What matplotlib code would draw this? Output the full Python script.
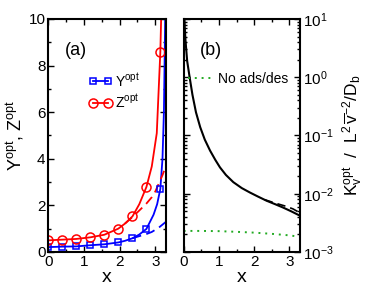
import numpy as np
import matplotlib
matplotlib.use('Agg')
import matplotlib.pyplot as plt
from matplotlib.ticker import MultipleLocator, LogLocator, NullFormatter

plt.rcParams['font.family'] = ['Liberation Sans', 'DejaVu Sans']
plt.rcParams['mathtext.fontset'] = 'custom'
plt.rcParams['mathtext.rm'] = 'Liberation Sans'
plt.rcParams['mathtext.it'] = 'Liberation Sans'
plt.rcParams['mathtext.default'] = 'regular'

# --- panel (a) data ---
x_mark = [0.0, 0.39, 0.785, 1.18, 1.57, 1.96, 2.36, 2.75, 3.14]
y_mark = [0.21, 0.23, 0.24, 0.29, 0.33, 0.41, 0.59, 0.99, 2.71]
z_mark = [0.50, 0.53, 0.56, 0.63, 0.74, 1.00, 1.53, 2.79, 8.6]

x_y_line = [0.0, 0.39, 0.785, 1.18, 1.57, 1.96, 2.15, 2.36, 2.55, 2.75, 2.95, 3.05, 3.14, 3.20, 3.24, 3.28]
y_line = [0.21, 0.23, 0.24, 0.29, 0.33, 0.41, 0.48, 0.59, 0.75, 0.99, 1.6, 2.05, 2.71, 4.0, 6.0, 10.5]

x_z_line = [0.0, 0.39, 0.785, 1.18, 1.57, 1.96, 2.15, 2.36, 2.55, 2.75, 2.9, 3.04, 3.14, 3.17]
z_line = [0.50, 0.53, 0.56, 0.63, 0.74, 1.00, 1.22, 1.53, 2.05, 2.79, 3.67, 5.1, 8.6, 10.5]

x_y_dash = [2.36, 2.55, 2.75, 2.9, 3.1, 3.3]
y_dash = [0.59, 0.68, 0.77, 0.86, 1.05, 1.30]

x_z_dash = [2.15, 2.36, 2.55, 2.75, 2.9, 3.0, 3.1, 3.2, 3.3]
z_dash = [1.22, 1.50, 1.78, 2.08, 2.35, 2.6, 2.95, 3.3, 3.7]

# --- panel (b) data ---
x_k = [0.02, 0.05, 0.1, 0.17, 0.25, 0.35, 0.47, 0.6, 0.75, 0.9, 1.03, 1.2, 1.41,
       1.65, 1.88, 2.1, 2.35, 2.6, 2.82, 3.05, 3.3]
k_opt = [10.0, 4.5, 1.9, 1.0, 0.5, 0.25, 0.139, 0.085, 0.055, 0.038, 0.0284, 0.021,
         0.0158, 0.0125, 0.0105, 0.009, 0.0076, 0.0066, 0.0058, 0.005, 0.0042]
x_k_dash = [2.3, 2.6, 2.9, 3.1, 3.3]
k_dash = [0.0079, 0.0069, 0.0061, 0.0055, 0.0047]
x_noads = [0.0, 0.5, 1.0, 1.5, 2.0, 2.5, 3.0, 3.3]
k_noads = [2.3e-3, 2.3e-3, 2.28e-3, 2.22e-3, 2.15e-3, 2.05e-3, 1.93e-3, 1.82e-3]

fig = plt.figure(figsize=(3.74, 2.92), dpi=100)
ax1 = fig.add_axes([0.129, 0.137, 0.315, 0.798])
ax2 = fig.add_axes([0.491, 0.137, 0.311, 0.798])

lw = 1.3
ax1.plot(x_y_line, y_line, color='blue', lw=lw)
ax1.plot(x_z_line, z_line, color='red', lw=lw)
ax1.plot(x_y_dash, y_dash, color='blue', lw=lw, ls=(0, (5, 3)))
ax1.plot(x_z_dash, z_dash, color='red', lw=lw, ls=(0, (5, 3)))
ax1.plot(x_mark, y_mark, ls='none', marker='s', ms=5, mfc='none', mec='blue', mew=1.1)
ax1.plot(x_mark, z_mark, ls='none', marker='o', ms=6.5, mfc='none', mec='red', mew=1.1)

# legend entries
ax1.plot([], [], color='blue', lw=lw, marker='s', ms=5, mfc='none', mew=1.1,
         label=r'$Y^{opt}$')
ax1.plot([], [], color='red', lw=lw, marker='o', ms=6.5, mfc='none', mew=1.1,
         label=r'$Z^{opt}$')
ax1.legend(loc='upper left', bbox_to_anchor=(0.27, 0.81), frameon=False, fontsize=10,
           handlelength=1.7, handletextpad=0.2, labelspacing=0.3, borderpad=0.1,
           numpoints=2)

ax1.set_xlim(0, 3.3)
ax1.set_ylim(0, 10)
ax1.xaxis.set_major_locator(MultipleLocator(1))
ax1.xaxis.set_minor_locator(MultipleLocator(0.5))
ax1.yaxis.set_major_locator(MultipleLocator(2))
ax1.yaxis.set_minor_locator(MultipleLocator(1))
ax1.set_xlabel('x', fontsize=14, labelpad=0)
ax1.set_ylabel(r'$Y^{opt}$, $Z^{opt}$', fontsize=13, labelpad=2)
ax1.text(0.14, 0.845, '(a)', transform=ax1.transAxes, fontsize=13)

ax2.plot(x_k, k_opt, color='black', lw=1.5)
ax2.plot(x_k_dash, k_dash, color='black', lw=1.2, ls=(0, (5, 3)))
ax2.plot(x_noads, k_noads, color='#22aa22', lw=1.4, ls=(0, (1, 2.5)))
ax2.plot([], [], color='#22aa22', lw=1.4, ls=(0, (1, 2.5)), label='No ads/des')
ax2.legend(loc='upper left', bbox_to_anchor=(-0.03, 0.81), frameon=False, fontsize=10,
           handlelength=1.6, handletextpad=0.5, borderpad=0.1)
ax2.set_yscale('log')
ax2.set_xlim(0, 3.3)
ax2.set_ylim(1e-3, 1e1)
ax2.xaxis.set_major_locator(MultipleLocator(1))
ax2.xaxis.set_minor_locator(MultipleLocator(0.5))
ax2.yaxis.set_major_locator(LogLocator(base=10, numticks=10))
ax2.yaxis.set_minor_locator(LogLocator(base=10, subs=np.arange(2, 10), numticks=20))
ax2.yaxis.set_minor_formatter(NullFormatter())
ax2.yaxis.tick_right()
ax2.yaxis.set_label_position('right')
ax2.set_xlabel('x', fontsize=14, labelpad=0)
ax2.set_ylabel(r'$K_v^{opt}$  /  $L^2\,\overline{v}^{-2}/D_b$', fontsize=12.5, labelpad=5)
ax2.text(0.14, 0.845, '(b)', transform=ax2.transAxes, fontsize=13)

for ax in (ax1, ax2):
    ax.tick_params(which='both', direction='in', top=True, bottom=True, left=True,
                   right=True, labelsize=11, width=1)
    ax.tick_params(which='major', length=4, pad=2)
    ax.tick_params(which='minor', length=2.5)
    for s in ax.spines.values():
        s.set_linewidth(1.5)
ax2.tick_params(labelleft=False, labelright=True)

fig.savefig('out.png', dpi=100)
